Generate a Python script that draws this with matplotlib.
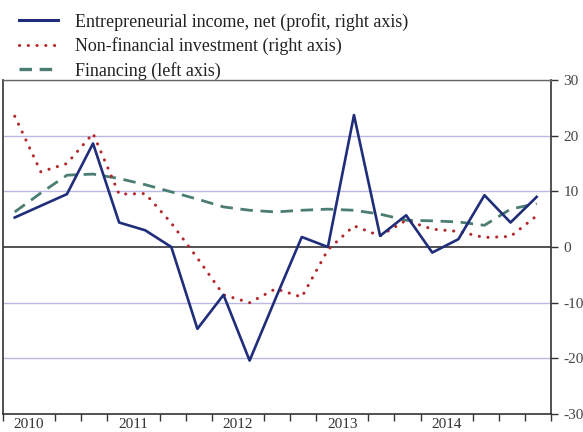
import matplotlib
matplotlib.use("Agg")
import matplotlib.pyplot as plt
from matplotlib.lines import Line2D
import numpy as np

plt.rcParams['lines.scale_dashes'] = False
plt.rcParams['font.family'] = ['Liberation Serif', 'DejaVu Serif']

# ---- data (quarterly, 2010Q1 .. 2015Q1) ----
year_labels = ["2010", "2011", "2012", "2013", "2014"]
income = [5.3, 7.4, 9.5, 18.6, 4.4, 3.0, 0.0, -14.7, -8.6, -20.4, -9.2,
          1.8, 0.0, 23.7, 2.0, 5.7, -1.0, 1.4, 9.3, 4.4, 9.0]
investment = [23.5, 13.5, 15.0, 20.4, 9.5, 9.6, 4.3, -2.0, -8.6, -10.0, -7.5,
              -9.0, -0.5, 3.8, 2.0, 4.8, 3.2, 2.8, 1.7, 1.9, 5.6]
financing = [6.3, 9.7, 12.9, 13.1, 12.3, 11.2, 9.9, 8.6, 7.2, 6.6, 6.3,
             6.6, 6.8, 6.6, 5.9, 4.8, 4.7, 4.5, 3.9, 6.8, 7.8]
y_ticks = [30, 20, 10, 0, -10, -20, -30]

BLUE = "#1f2d7a"
RED = "#b5262b"
GREEN = "#4b7d72"
GRID = "#b9b9e3"

fig = plt.figure(figsize=(5.83, 4.32), dpi=100)
ax = fig.add_axes([3/583, 18/432, 548/583, 334/432])

n = len(income)
x = np.arange(n) + 0.45

for v in [20, 10, -10, -20, 30]:
    ax.axhline(v, color=GRID, lw=1.0, zorder=1)
ax.axhline(0, color="#333333", lw=1.2, zorder=1)

l_fin, = ax.plot(x, financing, color=GREEN, lw=2.0, linestyle=(0, (9, 5.5)), zorder=2)
l_inv, = ax.plot(x, investment, color=RED, lw=2.2, linestyle=(0, (0.1, 6.2)),
                 dash_capstyle='round', zorder=3)
l_inc, = ax.plot(x, income, color=BLUE, lw=1.9, zorder=4)

ax.set_xlim(0, 21)
ax.set_ylim(-30, 30)

ax.yaxis.tick_right()
ax.set_yticks(y_ticks)
ax.set_yticklabels([str(t) for t in y_ticks])
ax.tick_params(axis='y', direction='out', length=5, width=1, color="#333333",
               labelsize=11, labelcolor="#444444", pad=4)

label_pos = [1, 5, 9, 13, 17]
ax.set_xticks(label_pos)
ax.set_xticklabels(year_labels)
ax.set_xticks([i for i in range(22) if i not in label_pos], minor=True)
ax.tick_params(axis='x', which='major', length=0, labelsize=11,
               labelcolor="#333333", pad=3)
ax.tick_params(axis='x', which='minor', direction='out', length=5, width=1,
               color="#333333")

for s in ['left', 'bottom', 'right']:
    ax.spines[s].set_color("#333333")
    ax.spines[s].set_linewidth(1.2)
ax.spines['top'].set_color("#666666")
ax.spines['top'].set_linewidth(1.0)

handles = [Line2D([], [], color=BLUE, lw=2.2),
           Line2D([], [], color=RED, lw=2.2, linestyle=(0, (0.1, 6.2)), dash_capstyle='round'),
           Line2D([], [], color=GREEN, lw=2.4, linestyle=(0, (9, 5.5)))]
labels = ["Entrepreneurial income, net (profit, right axis)",
          "Non-financial investment (right axis)",
          "Financing (left axis)"]
fig.legend(handles, labels, loc='upper left', bbox_to_anchor=(0.004, 1.008),
           frameon=False, fontsize=13, handlelength=2.2, handletextpad=0.95,
           labelspacing=0.36, labelcolor="#222222")

fig.savefig("out.png", dpi=100)
